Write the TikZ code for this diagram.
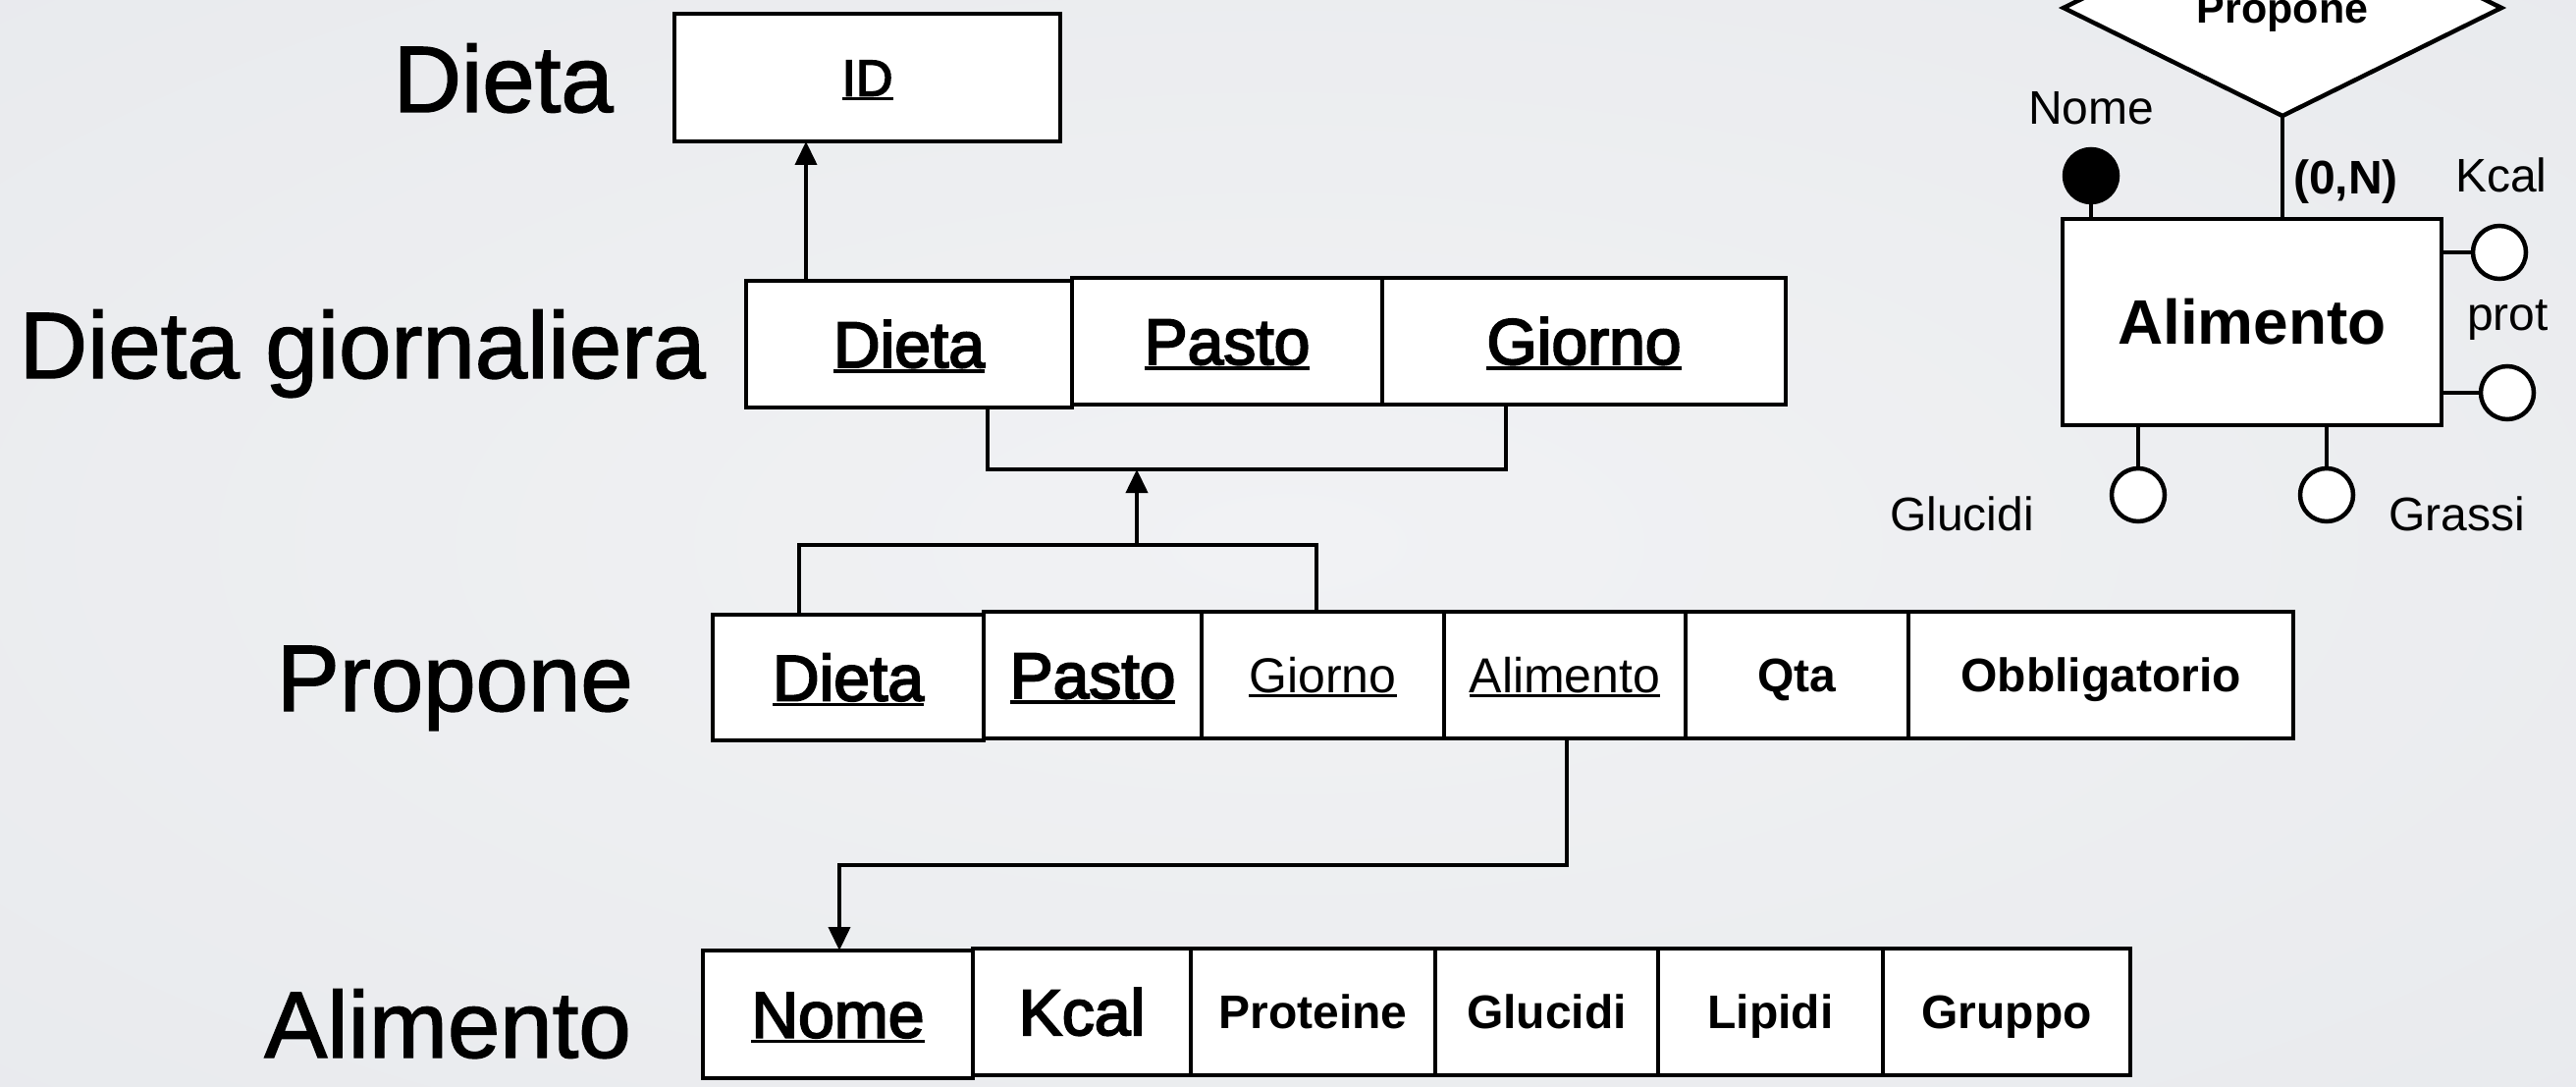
\documentclass[tikz,border=0pt]{standalone}
\usepackage{fontspec}
\setmainfont{Liberation Sans}
\newfontfamily\medfont{Liberation Sans}[FakeBold=3]
\newfontfamily\titlefont{Liberation Sans}[FakeBold=1.5]
\usetikzlibrary{arrows.meta,shapes.geometric,calc}

% font size helper and underlined key attribute
\newcommand\fsz[1]{\fontsize{#1pt}{#1pt}\selectfont}
\newsavebox\ulbox
\newcommand\keyattr[1]{\sbox\ulbox{#1}\rlap{\rule[-0.085em]{\wd\ulbox}{0.05em}}\usebox\ulbox}

\definecolor{bgin}{RGB}{241,242,244}
\definecolor{bgout}{RGB}{227,229,233}
\pgfdeclareradialshading{slidebg}{\pgfpoint{0bp}{0bp}}{color(0bp)=(bgin); color(60bp)=(bgout)}

\tikzset{
  cell/.style={draw, fill=white, line width=4pt, inner sep=0pt, outer sep=0pt,
    anchor=north west, text depth=0pt},
  bigcell/.style={cell, font=\medfont\fsz{66}, text height=47pt},
  midcell/.style={cell, font=\fsz{50}, text height=36pt},
  boldcell/.style={cell, font=\bfseries\fsz{48}, text height=34pt},
  title/.style={font=\titlefont\fsz{96}, anchor=base east, inner sep=0pt},
  link/.style={line width=4pt},
  arr/.style={link, -{Triangle[length=24pt,width=22pt]}},
  erline/.style={line width=4.5pt},
  rel/.style={diamond, draw, fill=white, line width=4.5pt, inner sep=0pt, outer sep=0pt,
    minimum width=446pt, minimum height=220pt, font=\bfseries\fsz{43},
    text height=31pt, text depth=0pt},
  ent/.style={draw, fill=white, line width=4.5pt, inner sep=0pt, outer sep=0pt,
    minimum width=386pt, minimum height=210pt, font=\bfseries\fsz{64},
    text height=46pt, text depth=0pt},
  att/.style={circle, draw, fill=white, line width=4.5pt, inner sep=0pt, outer sep=0pt,
    minimum size=54pt},
  keyatt/.style={att, fill=black},
  lightlab/.style={font=\fsz{48}, inner sep=0pt},
}

\begin{document}
\begin{tikzpicture}[x=1pt, y=-1pt]
\useasboundingbox (0,0) rectangle (2624,1107);
\clip (0,0) rectangle (2624,1107);
\shade[shading=slidebg] (0,0) rectangle (2624,1107);

% ---- relational schema: titles ----
\node[title] (tdieta) at (625,114) {Dieta};
\node[title] (tdg) at (719,385) {Dieta giornaliera};
\node[title] (tprop) at (645,724) {Propone};
\node[title] (talim) at (643,1077) {Alimento};

% Dieta
\node[bigcell, font=\medfont\fsz{52}, text height=37pt, minimum width=393pt, minimum height=130pt]
  (id) at (687,14) {\keyattr{ID}};

% Dieta giornaliera
\node[bigcell, minimum width=332pt, minimum height=129pt] (dg1) at (760,286) {\keyattr{Dieta}};
\node[bigcell, minimum width=316pt, minimum height=129pt] (dg2) at (1092,283) {\keyattr{Pasto}};
\node[bigcell, minimum width=411pt, minimum height=129pt] (dg3) at (1408,283) {\keyattr{Giorno}};

% Propone
\node[bigcell, minimum width=276pt, minimum height=128pt] (pp1) at (726,626) {\keyattr{Dieta}};
\node[bigcell, minimum width=222pt, minimum height=129pt] (pp2) at (1002,623) {\keyattr{Pasto}};
\node[midcell, minimum width=247pt, minimum height=129pt] (pp3) at (1224,623) {\keyattr{Giorno}};
\node[midcell, minimum width=246pt, minimum height=129pt] (pp4) at (1471,623) {\keyattr{Alimento}};
\node[boldcell, minimum width=227pt, minimum height=129pt] (pp5) at (1717,623) {Qta};
\node[boldcell, minimum width=392pt, minimum height=129pt] (pp6) at (1944,623) {Obbligatorio};

% Alimento
\node[bigcell, minimum width=275pt, minimum height=130pt] (al1) at (716,968) {\keyattr{Nome}};
\node[bigcell, minimum width=222pt, minimum height=129pt] (al2) at (991,966) {Kcal};
\node[boldcell, minimum width=249pt, minimum height=129pt] (al3) at (1213,966) {Proteine};
\node[boldcell, minimum width=227pt, minimum height=129pt] (al4) at (1462,966) {Glucidi};
\node[boldcell, minimum width=229pt, minimum height=129pt] (al5) at (1689,966) {Lipidi};
\node[boldcell, minimum width=252pt, minimum height=129pt] (al6) at (1918,966) {Gruppo};

% ---- referential constraints ----
\coordinate (c1) at ($(dg1.north west)+(61,0)$);
\draw[arr] (c1) -- (c1 |- id.south);

\coordinate (b1) at ($(dg1.south west)+(246,0)$);
\coordinate (b2) at ($(dg3.south west)+(126,0)$);
\coordinate (j1) at (1158,478);
\draw[link] (b1) |- (j1) -| (b2);

\coordinate (p1) at ($(pp1.north west)+(88,0)$);
\coordinate (p2) at ($(pp3.north west)+(117,0)$);
\coordinate (j2) at (1158,555);
\draw[link] (p1) |- (j2) -| (p2);
\draw[arr] (j2) -- (j1);

\coordinate (q1) at ($(pp4.south west)+(125,0)$);
\coordinate (q2) at ($(al1.north west)+(139,0)$);
\coordinate (q3) at (855,881);
\draw[arr] (q1) |- (q3) -- (q2);

% ---- E-R fragment ----
\node[rel] (prop) at (2325,8) {Propone};
\node[ent] (ent) at (2294,328) {Alimento};
\draw[erline] (prop.south) -- (prop.south |- ent.north);
\node[font=\bfseries\fsz{48}, anchor=base west, inner sep=0pt] (card) at (2336,198) {(0,N)};

\node[keyatt] (anome) at (2130,179) {};
\draw[erline] (anome) -- (anome |- ent.north);
\node[lightlab, anchor=base] (lnome) at (2130,127) {Nome};

\node[att] (akcal) at (2546,257) {};
\draw[erline] (akcal) -- (akcal -| ent.east);
\node[lightlab, anchor=base west] (lkcal) at (2501,196) {Kcal};

\node[att] (aprot) at (2554,400) {};
\draw[erline] (aprot) -- (aprot -| ent.east);
\node[lightlab, anchor=base west] (lprot) at (2513,337) {prot};

\node[att] (agluc) at (2178,504) {};
\draw[erline] (agluc) -- (agluc |- ent.south);
\node[lightlab, anchor=base east] (lgluc) at (2072,540) {Glucidi};

\node[att] (agras) at (2370,504) {};
\draw[erline] (agras) -- (agras |- ent.south);
\node[lightlab, anchor=base west] (lgras) at (2433,540) {Grassi};
\end{tikzpicture}
\end{document}
